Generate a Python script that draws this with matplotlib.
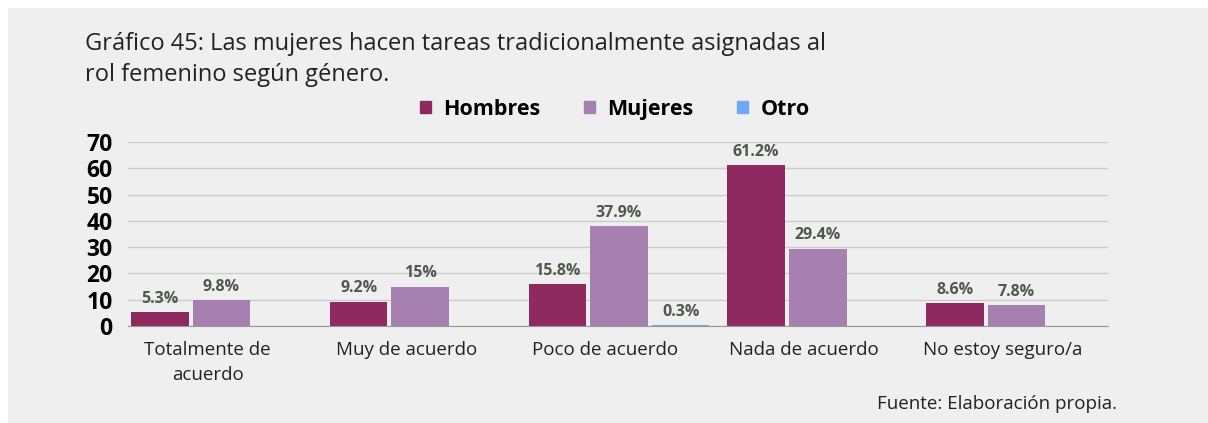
import numpy as np
from matplotlib import pyplot as plt
from matplotlib.patches import Rectangle, Patch

plt.rcParams['font.family'] = ['Open Sans', 'DejaVu Sans']

# datos
categorias = ["Totalmente de\nacuerdo", "Muy de acuerdo", "Poco de acuerdo",
              "Nada de acuerdo", "No estoy seguro/a"]
hombres = [5.3, 9.2, 15.8, 61.2, 8.6]
mujeres = [9.8, 15.0, 37.9, 29.4, 7.8]
otro = [0, 0, 0.3, 0, 0]
etiquetas_h = ["5.3%", "9.2%", "15.8%", "61.2%", "8.6%"]
etiquetas_m = ["9.8%", "15%", "37.9%", "29.4%", "7.8%"]
etiquetas_o = ["", "", "0.3%", "", ""]

colores = {'Hombres': '#8e2a5f', 'Mujeres': '#a680b0', 'Otro': '#6fa8f5'}
fondo = '#efefef'

fig = plt.figure(figsize=(12.08, 4.23), dpi=100)
fig.patch.set_facecolor('white')
# panel gris con borde blanco arriba/izquierda
fig.patches.append(Rectangle((8 / 1208, 0), 1, 1 - 8 / 423, transform=fig.transFigure,
                             facecolor=fondo, edgecolor='none', zorder=-1))

ax = fig.add_axes([128 / 1208, 1 - 326 / 423, 980 / 1208, 184 / 423])
ax.set_facecolor(fondo)

x = np.arange(len(categorias))
ancho = 0.29
paso = 0.31

series = [(hombres, etiquetas_h, 'Hombres', -paso),
          (mujeres, etiquetas_m, 'Mujeres', 0),
          (otro, etiquetas_o, 'Otro', paso)]
for valores, etiquetas, nombre, dx in series:
    barras = ax.bar(x + dx, valores, width=ancho, color=colores[nombre], zorder=3)
    for b, v, et in zip(barras, valores, etiquetas):
        if et:
            ax.annotate(et, (b.get_x() + b.get_width() / 2, v), xytext=(0, 4),
                        textcoords='offset points', ha='center', va='bottom',
                        fontsize=11.5, fontweight='bold', color='#4d5a4b', zorder=4)

ax.set_xlim(-0.47, 4.46)
ax.set_ylim(0, 70)
ax.set_yticks(range(0, 71, 10))
ax.yaxis.grid(True, color='#cccccc', linewidth=1, zorder=0)
ax.set_axisbelow(True)
for s in ['top', 'right', 'left']:
    ax.spines[s].set_visible(False)
ax.spines['bottom'].set_color('#999999')
ax.spines['bottom'].set_zorder(5)

ax.set_xticks(x - 0.07)
ax.set_xticklabels(categorias, fontsize=13.5, color='#222222', linespacing=1.45)
ax.tick_params(axis='x', length=0, pad=11)
ax.tick_params(axis='y', length=0, pad=11, labelsize=16.5)
for t in ax.get_yticklabels():
    t.set_fontweight('bold')

# leyenda
handles = [Patch(color=colores[n]) for n in ['Hombres', 'Mujeres', 'Otro']]
fig.legend(handles, ['Hombres', 'Mujeres', 'Otro'], loc='center', ncol=3,
           bbox_to_anchor=(0.509, 1 - 109 / 423), frameon=False,
           prop={'weight': 'bold', 'size': 15.5}, handlelength=0.5, handleheight=0.5,
           handletextpad=0.6, columnspacing=2.0)

fig.text(85 / 1208, 1 - 32 / 423,
         "Gráfico 45: Las mujeres hacen tareas tradicionalmente asignadas al\nrol femenino según género.",
         fontsize=17, color='#222222', va='top', ha='left', linespacing=1.4)
fig.text(1117 / 1208, 1 - 404 / 423, "Fuente: Elaboración propia.",
         fontsize=13.5, color='#222222', va='center', ha='right')

plt.savefig("out.png", dpi=100)
